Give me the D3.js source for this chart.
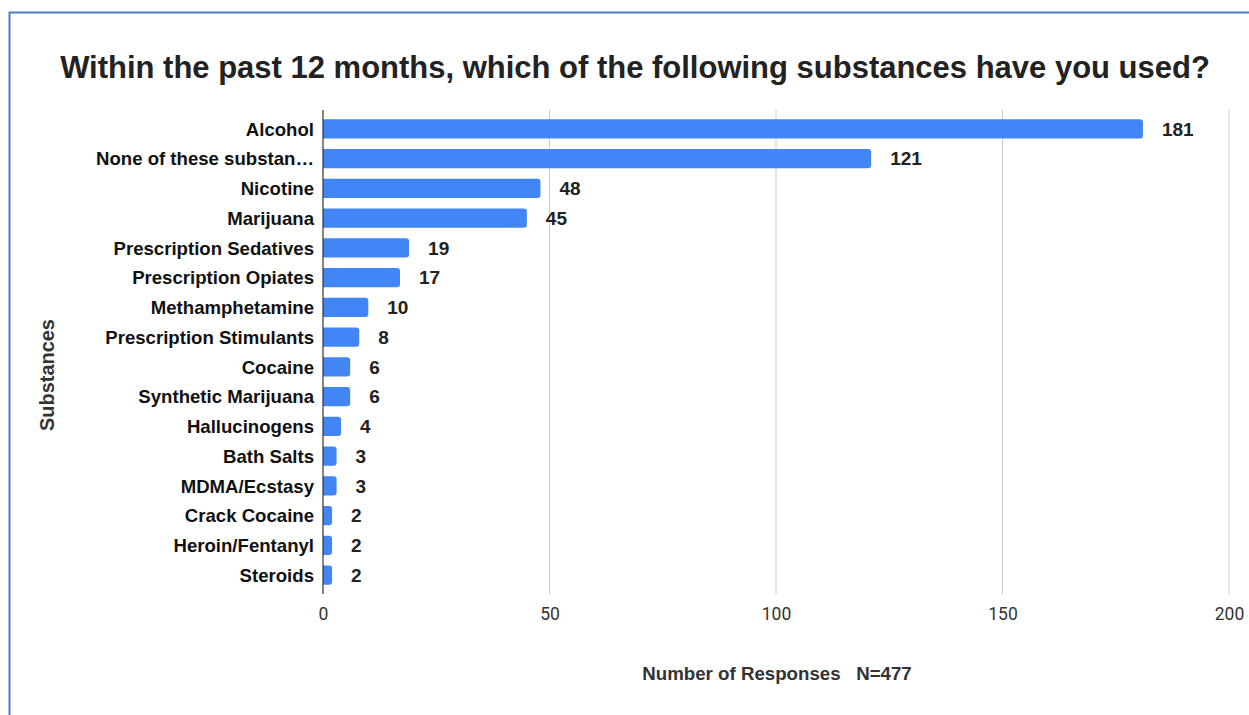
<!DOCTYPE html>
<html><head><meta charset="utf-8">
<script src="https://cdn.jsdelivr.net/npm/d3@7"></script>
<style>body{margin:0;background:#fff;}svg{display:block;}</style>
</head><body>
<script>
const categories = ["Alcohol","None of these substan…","Nicotine","Marijuana","Prescription Sedatives","Prescription Opiates","Methamphetamine","Prescription Stimulants","Cocaine","Synthetic Marijuana","Hallucinogens","Bath Salts","MDMA/Ecstasy","Crack Cocaine","Heroin/Fentanyl","Steroids"];
const values = [181,121,48,45,19,17,10,8,6,6,4,3,3,2,2,2];
const xTicks = [0,50,100,150,200];
const title = "Within the past 12 months, which of the following substances have you used?";
const xTitle = "Number of Responses   N=477";
const yTitle = "Substances";

const W = 1249, H = 715;
const svg = d3.select("body").append("svg").attr("width", W).attr("height", H);
svg.append("rect").attr("x",9.5).attr("y",12.5).attr("width",W+10).attr("height",H+10)
  .attr("fill","#fff").attr("stroke","#4a7bd0").attr("stroke-width",2);

const x = d3.scaleLinear().domain([0,200]).range([323,1229]);
const y = d3.scaleBand().domain(categories).range([114,590]).paddingInner(0.36).paddingOuter(0.18);
const FONT = "Liberation Sans, Arial, sans-serif";

// grid
svg.append("g").selectAll("line").data(xTicks.filter(d=>d>0)).join("line")
  .attr("x1",d=>x(d)).attr("x2",d=>x(d)).attr("y1",110).attr("y2",594)
  .attr("stroke","#cccccc").attr("stroke-width",1);

// bars
svg.append("g").selectAll("path").data(values).join("path")
  .attr("fill","#4285f4")
  .attr("d",(d,i)=>{
    const x0=x(0), x1=x(d), y0=y(categories[i]), h=y.bandwidth(), r=Math.min(3,(x1-x0)/2);
    return `M${x0},${y0}H${x1-r}Q${x1},${y0} ${x1},${y0+r}V${y0+h-r}Q${x1},${y0+h} ${x1-r},${y0+h}H${x0}Z`;
  });

// zero axis line
svg.append("line").attr("x1",x(0)).attr("x2",x(0)).attr("y1",110).attr("y2",594)
  .attr("stroke","#333").attr("stroke-width",1.2);

// value labels
svg.append("g").selectAll("text").data(values).join("text")
  .attr("x",d=>x(d)+19).attr("y",(d,i)=>y(categories[i])+y.bandwidth()/2)
  .attr("dy","0.36em").attr("font-family",FONT)
  .attr("font-weight","bold").attr("font-size",19).attr("fill","#222").text(d=>d);

// category labels
svg.append("g").selectAll("text").data(categories).join("text")
  .attr("x",314).attr("y",d=>y(d)+y.bandwidth()/2).attr("dy","0.36em")
  .attr("text-anchor","end").attr("font-family",FONT)
  .attr("font-weight","bold").attr("font-size",18.6).attr("fill","#111").text(d=>d);

// x ticks
const xa = svg.append("g").attr("transform","translate(0,594)")
  .call(d3.axisBottom(x).tickValues(xTicks).tickSize(0).tickPadding(14));
xa.select(".domain").remove();
xa.selectAll("text").attr("font-family","Roboto, Arial, sans-serif").attr("font-size",17.5).attr("fill","#333");

// fit a text's font size to a target width
function fitWidth(sel, target){
  const node = sel.node();
  const fs = parseFloat(sel.attr("font-size"));
  const w = node.getComputedTextLength();
  if (w > 0) sel.attr("font-size", (fs*target/w).toFixed(2));
}

// titles
const t = svg.append("text").attr("x",635).attr("y",78).attr("text-anchor","middle")
  .attr("font-family",FONT).attr("font-weight","bold").attr("font-size",33)
  .attr("fill","#222").text(title);
fitWidth(t, 1150);
svg.append("text").attr("x",777).attr("y",680).attr("text-anchor","middle")
  .attr("font-family",FONT).attr("font-weight","bold").attr("font-size",18.7)
  .attr("fill","#333").attr("xml:space","preserve").style("white-space","pre").text(xTitle);
const st = svg.append("text").attr("transform","translate(54,375) rotate(-90)").attr("text-anchor","middle")
  .attr("font-family",FONT).attr("font-weight","bold").attr("font-size",17)
  .attr("fill","#333").text(yTitle);
fitWidth(st, 112);
</script>
</body></html>
